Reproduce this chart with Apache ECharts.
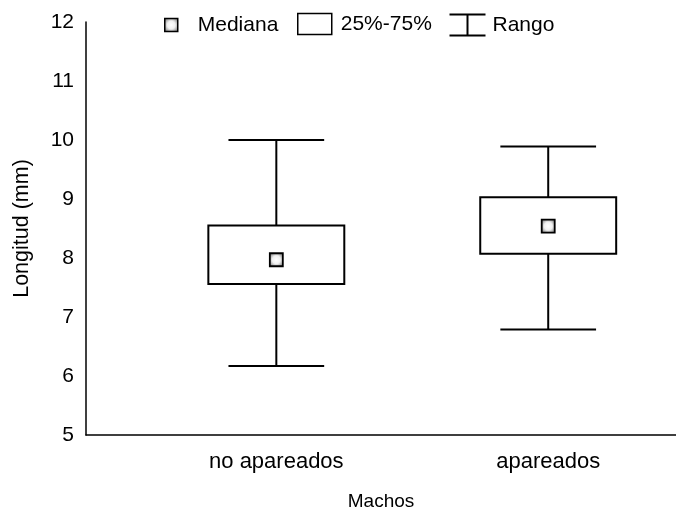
<!DOCTYPE html>
<html>
<head>
<meta charset="utf-8">
<script src="https://cdn.jsdelivr.net/npm/echarts@6/dist/echarts.min.js"></script>
<style>
  html, body { margin: 0; padding: 0; background: #fff; }
  #chart { width: 676px; height: 516px; }
</style>
</head>
<body>
<div id="chart"></div>
<script>
// ---- data ----
const categories = ['no apareados', 'apareados'];
const rangeMin = [6.17, 6.79];
const rangeMax = [10.0, 9.89];
const q25 = [7.56, 8.07];
const q75 = [8.55, 9.03];
const medians = [7.97, 8.54];
const yTicks = [5, 6, 7, 8, 9, 10, 11, 12];

const FONT = 'Liberation Sans, Arial, sans-serif';
const BOX_HALF = 0.25;
const CAP_HALF = 0.176;

const xs = categories.map((c, i) => i + 1);
const rangeData = xs.map((x, i) => [x, rangeMin[i], rangeMax[i], q25[i], q75[i]]);
const boxData = xs.map((x, i) => [x, q25[i], q75[i]]);
const medData = xs.map((x, i) => [x, medians[i]]);

const medFill = new echarts.graphic.RadialGradient(0.5, 0.5, 0.6, [
  { offset: 0, color: '#ffffff' },
  { offset: 0.45, color: '#f0f0f0' },
  { offset: 1, color: '#707070' }
]);

const chart = echarts.init(document.getElementById('chart'), null, { renderer: 'canvas' });

function ts(size, extra) {
  return Object.assign({ fontFamily: FONT, fontSize: size, color: '#000' }, extra || {});
}

chart.setOption({
  animation: false,
  backgroundColor: '#fff',
  textStyle: { fontFamily: FONT },
  grid: { left: 86, right: 0, top: 22, bottom: 81, containLabel: false },
  legend: [
    {
      data: [{ name: 'Mediana', icon: 'rect', itemStyle: { color: medFill, borderColor: '#000', borderWidth: 1.5 } }],
      left: 164, top: 13, padding: 0, itemWidth: 13, itemHeight: 13, selectedMode: false,
      textStyle: ts(21, { lineHeight: 24, padding: [0, 0, 0, 15] })
    },
    {
      data: [{ name: '25%-75%', icon: 'rect', itemStyle: { color: '#fff', borderColor: '#000', borderWidth: 1.5 } }],
      left: 297, top: 12, padding: 0, itemWidth: 34, itemHeight: 21, selectedMode: false,
      textStyle: ts(21, { lineHeight: 24, padding: [0, 0, 0, 4] })
    },
    {
      data: [{ name: 'Rango', icon: 'path://M0 0H36M18 0V21M0 21H36', itemStyle: { color: 'none', borderColor: '#000', borderWidth: 2 } }],
      left: 447, top: 12, padding: 0, itemWidth: 36, itemHeight: 21, selectedMode: false,
      textStyle: ts(21, { lineHeight: 24, padding: [0, 0, 0, 2] })
    }
  ],
  xAxis: {
    type: 'value',
    min: 0.3,
    max: 2.47,
    splitLine: { show: false },
    axisTick: { show: false },
    axisLine: { show: true, lineStyle: { color: '#000', width: 1.5 } },
    axisLabel: {
      customValues: xs,
      formatter: v => categories[Math.round(v) - 1] || '',
      margin: 16,
      fontFamily: FONT, fontSize: 22, color: '#000'
    },
    name: 'Machos',
    nameLocation: 'middle',
    nameGap: 57,
    nameTextStyle: ts(19)
  },
  yAxis: {
    type: 'value',
    min: 5,
    max: 12,
    interval: 1,
    splitLine: { show: false },
    axisTick: { show: false },
    axisLine: { show: true, lineStyle: { color: '#000', width: 1.5 } },
    axisLabel: { margin: 12, fontFamily: FONT, fontSize: 21, color: '#000' },
    name: 'Longitud (mm)',
    nameLocation: 'middle',
    nameGap: 53,
    nameTextStyle: ts(21.5)
  },
  series: [
    {
      name: 'Rango',
      type: 'custom',
      data: rangeData,
      encode: { x: 0, y: [1, 2] },
      itemStyle: { color: '#000' },
      renderItem: function (params, api) {
        const x = api.value(0);
        const lo = api.coord([x, api.value(1)]);
        const hi = api.coord([x, api.value(2)]);
        const capL = api.coord([x - CAP_HALF, api.value(2)]);
        const capR = api.coord([x + CAP_HALF, api.value(2)]);
        const capLb = api.coord([x - CAP_HALF, api.value(1)]);
        const capRb = api.coord([x + CAP_HALF, api.value(1)]);
        const st = { stroke: '#000', lineWidth: 2 };
        return {
          type: 'group',
          children: [
            { type: 'line', shape: { x1: lo[0], y1: lo[1], x2: hi[0], y2: hi[1] }, style: st },
            { type: 'line', shape: { x1: capL[0], y1: capL[1], x2: capR[0], y2: capR[1] }, style: st },
            { type: 'line', shape: { x1: capLb[0], y1: capLb[1], x2: capRb[0], y2: capRb[1] }, style: st }
          ]
        };
      },
      z: 1
    },
    {
      name: '25%-75%',
      type: 'custom',
      data: boxData,
      encode: { x: 0, y: [1, 2] },
      itemStyle: { color: '#fff', borderColor: '#000' },
      renderItem: function (params, api) {
        const x = api.value(0);
        const a = api.coord([x - BOX_HALF, api.value(2)]);
        const b = api.coord([x + BOX_HALF, api.value(1)]);
        return {
          type: 'rect',
          shape: { x: a[0], y: a[1], width: b[0] - a[0], height: b[1] - a[1] },
          style: { fill: '#fff', stroke: '#000', lineWidth: 2 }
        };
      },
      z: 2
    },
    {
      name: 'Mediana',
      type: 'custom',
      data: medData,
      encode: { x: 0, y: 1 },
      itemStyle: { color: '#ccc' },
      renderItem: function (params, api) {
        const p = api.coord([api.value(0), api.value(1)]);
        const s = 13;
        return {
          type: 'rect',
          shape: { x: p[0] - s / 2, y: p[1] - s / 2, width: s, height: s },
          style: { fill: medFill, stroke: '#000', lineWidth: 1.8 }
        };
      },
      z: 3
    }
  ]
});
</script>
</body>
</html>
